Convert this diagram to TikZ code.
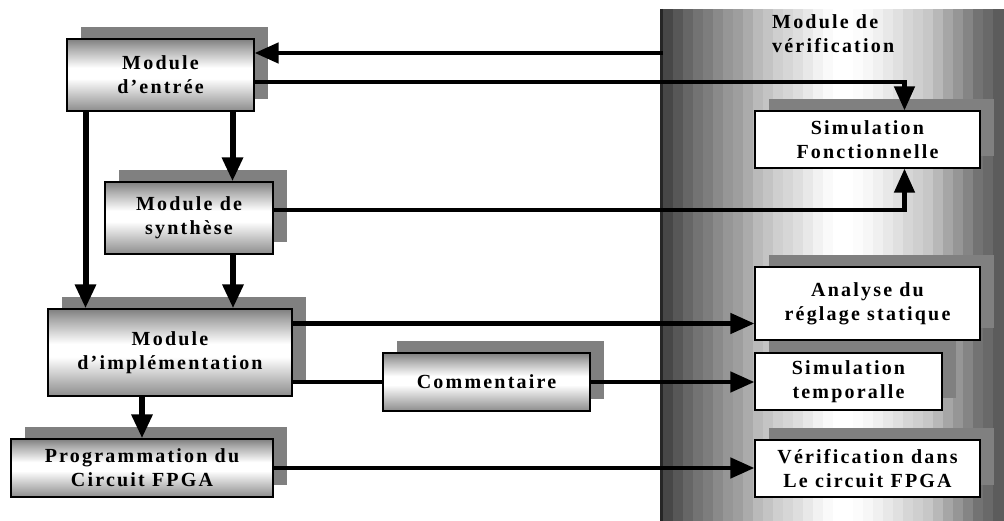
\documentclass[tikz,border=0pt]{standalone}
\usepackage{fontspec}
\setmainfont{Liberation Serif}[LetterSpace=11]
\usetikzlibrary{arrows.meta, shadows}

% shadings are 100bp wide, the path covers 25bp..75bp
\pgfdeclareverticalshading{modshade}{100bp}{color(0bp)=(black!45); color(25bp)=(black!45); color(37.5bp)=(black!20); color(47.5bp)=(white); color(55bp)=(white); color(67.5bp)=(black!30); color(75bp)=(black!50); color(100bp)=(black!50)}

\tikzstyle{module} = [rectangle, draw=black, line width=1.2pt, shading=modshade, align=center, inner sep=0pt, drop shadow={shadow xshift=14pt, shadow yshift=12pt, fill=black!50, opacity=1}]
\tikzstyle{result} = [rectangle, draw=black, line width=1.2pt, fill=white, align=center, inner sep=0pt, drop shadow={shadow xshift=14pt, shadow yshift=12pt, fill=black!50, opacity=1}]
\tikzstyle{line} = [line width=4.5pt]
\tikzstyle{arrow} = [line, -{Triangle[length=24pt,width=20pt]}]
\tikzstyle{varrow} = [arrow, line width=6pt]

\begin{document}
\begin{tikzpicture}[x=1pt, y=-1pt, font=\fontsize{20}{24}\selectfont\bfseries]

\useasboundingbox (0,0) rectangle (1004,521);

% verification column, banded grey
\foreach \x/\g in {663/72, 673/66, 683/60, 693/55, 703/51, 713/46, 723/41, 733/38, 743/33, 753/27,
                   763/23, 773/19, 783/16, 793/13, 803/9, 813/5, 823/2, 833/0, 843/0, 853/1,
                   863/3, 873/6, 883/9, 893/12, 903/16, 913/19, 923/22, 933/28, 943/35, 953/41,
                   963/48, 973/55, 983/59, 993/64}
  \fill[black!\g] (\x,9) rectangle (\x+11,521);
\draw[black!85, line width=3pt] (661.5,9) -- (661.5,521);
\node (vtitle) [anchor=north west, align=left, inner sep=0pt] at (772,14) {Module de\\vérification};

% design flow
\node (entree) [module, minimum width=187pt, minimum height=72pt] at (160.5,75) {Module\\d'entrée};
\node (synth) [module, minimum width=168pt, minimum height=72pt] at (189,218) {Module de\\synthèse};
\node (impl) [module, minimum width=244pt, minimum height=87pt] at (170,352.5) {Module\\d'implémentation};
\node (prog) [module, minimum width=262pt, minimum height=58pt] at (142,468) {Programmation du\\Circuit FPGA};
\node (comm) [module, minimum width=207pt, minimum height=58pt] at (486.5,382) {Commentaire};

% checks
\node (simf) [result, minimum width=225pt, minimum height=57pt] at (867.5,139.5) {Simulation\\Fonctionnelle};
\node (analyse) [result, minimum width=225pt, minimum height=73pt] at (867.5,303.5) {Analyse du\\réglage statique};
\node (simt) [result, minimum width=187pt, minimum height=57pt] at (848.5,381.5) {Simulation\\temporalle};
\node (verif) [result, minimum width=225pt, minimum height=57pt] at (867.5,468.5) {Vérification dans\\Le circuit FPGA};

\coordinate (vin) at (663,53);

\draw [arrow] (vin) -- (vin -| entree.east);
\draw [arrow] ([yshift=-7pt]entree.east) -| ([xshift=37pt]simf.north);
\draw [arrow] ([yshift=8pt]synth.east) -| ([xshift=37pt]simf.south);
\draw [varrow] ([xshift=-75pt]entree.south) -- ([xshift=-75pt]entree.south |- impl.north);
\draw [varrow] ([xshift=72pt]entree.south) -- ([xshift=72pt]entree.south |- synth.north);
\draw [varrow] ([xshift=44pt]synth.south) -- ([xshift=44pt]synth.south |- impl.north);
\draw [arrow] ([yshift=29pt]impl.east) -- ([yshift=29pt]impl.east -| analyse.west);
\draw [line] (comm.west -| impl.east) -- (comm.west);
\draw [arrow] (comm.east) -- (comm.east -| simt.west);
\draw [varrow] ([xshift=-28pt]impl.south) -- ([xshift=-28pt]impl.south |- prog.north);
\draw [arrow] (prog.east) -- (prog.east -| verif.west);

\end{tikzpicture}
\end{document}
